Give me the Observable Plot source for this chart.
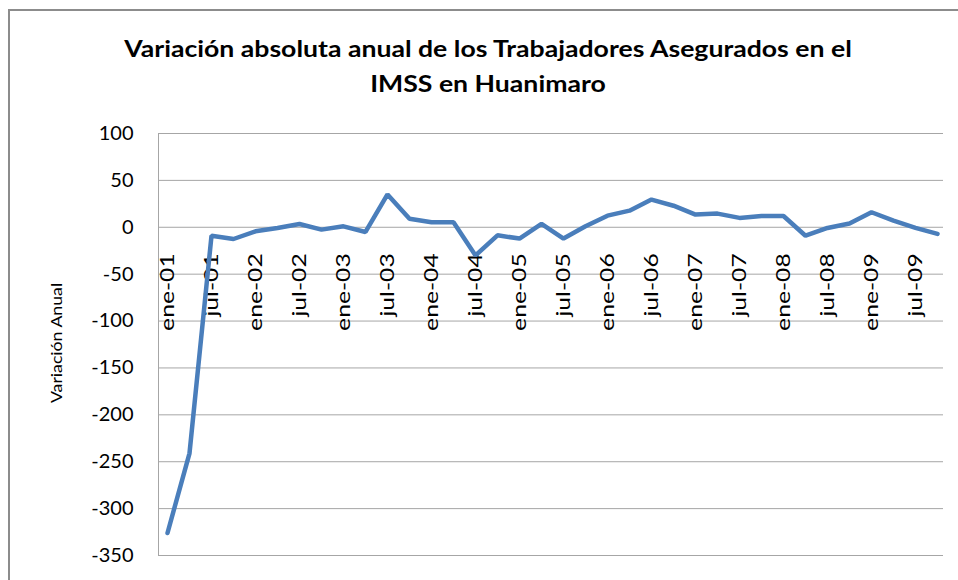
<!DOCTYPE html>
<html><head><meta charset="utf-8">
<script src="https://cdn.jsdelivr.net/npm/d3@7"></script>
<script src="https://cdn.jsdelivr.net/npm/@observablehq/plot@0.6"></script>
<style>
body{margin:0;background:#fff;}
#wrap{position:relative;width:958px;height:580px;overflow:hidden;font-family:Lato,sans-serif;color:#000;}
#border{position:absolute;left:8px;top:9px;width:1000px;height:1000px;border-left:2px solid #8c8c8c;border-top:2px solid #8c8c8c;}
#title{position:absolute;left:0;width:976px;top:31px;text-align:center;font-weight:bold;font-size:22px;line-height:35px;transform:scaleX(1.21);transform-origin:488px 0;}
#ylab{position:absolute;left:-43px;top:334px;width:200px;text-align:center;font-size:14.5px;line-height:18px;transform:rotate(-90deg) scaleX(1.22);transform-origin:center center;}
#chart{position:absolute;left:0;top:0;}
</style>
</head><body>
<div id="wrap">
<div id="border"></div>
<div id="chart"></div>
<div id="title">Variación absoluta anual de los Trabajadores Asegurados en el<br>IMSS en Huanimaro</div>
<div id="ylab">Variación Anual</div>
</div>
<script>
const periods = [
 "ene-01","abr-01","jul-01","oct-01","ene-02","abr-02","jul-02","oct-02",
 "ene-03","abr-03","jul-03","oct-03","ene-04","abr-04","jul-04","oct-04",
 "ene-05","abr-05","jul-05","oct-05","ene-06","abr-06","jul-06","oct-06",
 "ene-07","abr-07","jul-07","oct-07","ene-08","abr-08","jul-08","oct-08",
 "ene-09","abr-09","jul-09","oct-09"];
const values = [
 -326,-241,-9,-12.5,-4.3,-0.7,3.5,-2.5,
 1,-5,35,9,5.3,5.3,-30,-8.6,
 -12,3.5,-12,1,12.4,17.7,29.5,23,
 13.5,14.6,10,12,12,-9,-0.7,4,
 16,7,-0.7,-7];
const tickLabels = ["ene-01","jul-01","ene-02","jul-02","ene-03","jul-03","ene-04","jul-04","ene-05",
 "jul-05","ene-06","jul-06","ene-07","jul-07","ene-08","jul-08","ene-09","jul-09"];
const yTicks = [100,50,0,-50,-100,-150,-200,-250,-300,-350];

const data = periods.map((p,i)=>({p, v: values[i]}));

const chart = Plot.plot({
  width: 958, height: 580,
  marginLeft: 158, marginRight: 15, marginTop: 133, marginBottom: 25,
  style: {fontFamily: "Lato, sans-serif", color: "#000", background: "transparent"},
  x: {type: "point", domain: periods, padding: 0, insetLeft: 6, insetRight: 3, axis: null},
  y: {domain: [-350, 100], axis: null},
  marks: [
    Plot.gridY(yTicks, {stroke: "#a6a6a6", strokeOpacity: 1, strokeWidth: 1}),
    Plot.frame({anchor: "left", stroke: "#a6a6a6"}),
    Plot.axisY(yTicks, {tickSize: 0, tickPadding: 25, fontSize: 20, tickFormat: d => String(d), label: null}),
    Plot.text(tickLabels, {x: d => d, y: () => 0, text: d => d, rotate: -90, textAnchor: "end", lineAnchor: "middle", dy: 26, fontSize: 19, fill: "#000"}),
    Plot.line(data, {x: "p", y: "v", stroke: "#4a7ebb", strokeWidth: 4.5, strokeLinejoin: "miter"})
  ]
});
// stretch rotated category labels along their length, as in the reference
d3.select(chart).selectAll("g[aria-label='text'] text").attr("transform", function() {
  return this.getAttribute("transform") + " scale(1.3,1)";
});
document.getElementById("chart").appendChild(chart);
</script>
</body></html>
